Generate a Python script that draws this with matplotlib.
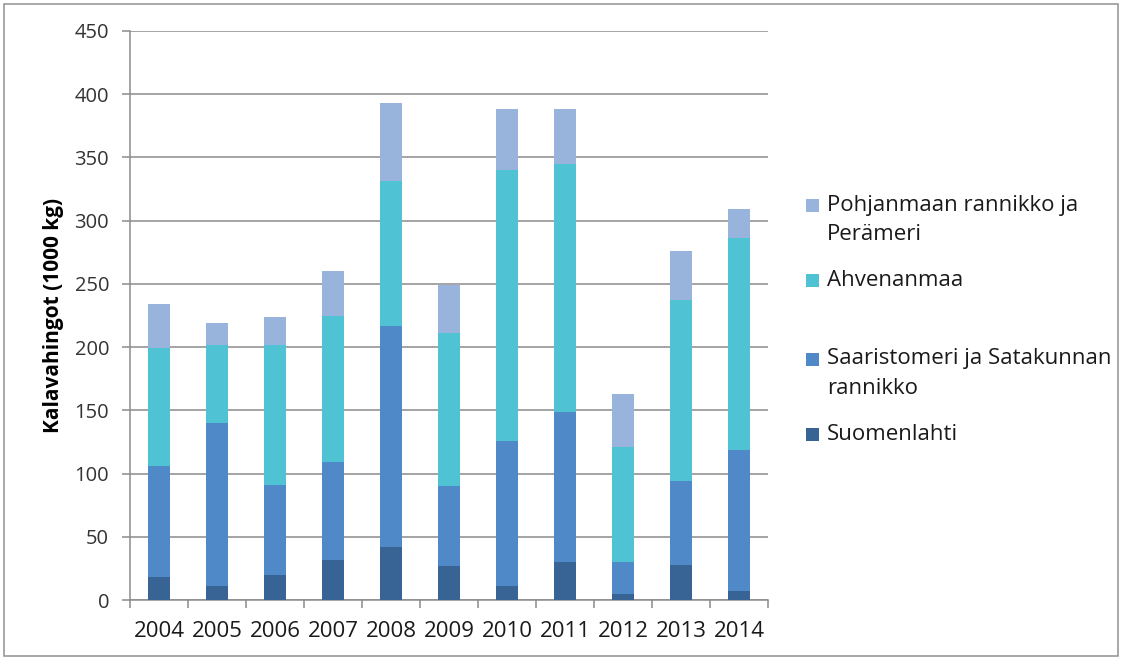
import matplotlib
matplotlib.use("Agg")
import matplotlib.pyplot as plt
from matplotlib.patches import Rectangle
import numpy as np

years = ["2004", "2005", "2006", "2007", "2008", "2009", "2010", "2011", "2012", "2013", "2014"]
suomenlahti = [18, 11, 20, 32, 42, 27, 11, 30, 5, 28, 7]
saaristomeri = [88, 129, 71, 77, 175, 63, 115, 119, 25, 66, 112]
ahvenanmaa = [93, 62, 111, 116, 114, 121, 214, 196, 91, 143, 167]
pohjanmaa = [35, 17, 22, 35, 62, 38, 48, 43, 42, 39, 23]

series_names = ["Suomenlahti", "Saaristomeri ja Satakunnan rannikko", "Ahvenanmaa",
                "Pohjanmaan rannikko ja Perämeri"]
colors = ["#376395", "#4f89c8", "#4fc3d3", "#98b4dd"]

plt.rcParams['font.family'] = ['Open Sans', 'DejaVu Sans']

W, H = 1123, 659
fig = plt.figure(figsize=(W/100, H/100), dpi=100)
ax = fig.add_axes([130/W, 1-600/H, (768-130)/W, (600-31)/H])

x = np.arange(len(years))
series = [suomenlahti, saaristomeri, ahvenanmaa, pohjanmaa]
bottom = np.zeros(len(years))
for vals, c, name in zip(series, colors, series_names):
    ax.bar(x, vals, width=0.37, bottom=bottom, color=c, edgecolor='none', zorder=3, label=name)
    bottom += np.array(vals)

ax.set_xlim(-0.5, len(years) - 0.5)
ax.set_ylim(0, 450)
ax.set_yticks(np.arange(0, 451, 50))
ax.grid(axis='y', color='#8c8c8c', linewidth=1.1, zorder=0)
ax.set_xticks(x)
ax.set_xticklabels(years)
ax.set_xticks(np.arange(-0.5, len(years), 1), minor=True)
ax.tick_params(axis='x', which='major', length=0, labelsize=16, pad=15, labelcolor='#1a1a1a')
ax.tick_params(axis='x', which='minor', length=6, color='#8c8c8c', width=1.1, direction='out')
ax.tick_params(axis='y', length=6, color='#8c8c8c', width=1.1, labelsize=14.5, pad=9,
               labelcolor='#333333')
for s in ['top', 'right']:
    ax.spines[s].set_visible(False)
for s in ['left', 'bottom']:
    ax.spines[s].set_color('#8c8c8c')
    ax.spines[s].set_linewidth(1.1)
ax.set_ylabel("Kalavahingot (1000 kg)", fontsize=15, fontweight='bold')
ax.yaxis.set_label_coords((64-130)/638, 0.5)

# legend drawn manually (square aligned with first text line, as in reference)
legend_entries = [
    (3, ["Pohjanmaan rannikko ja", "Perämeri"], 205),
    (2, ["Ahvenanmaa"], 280),
    (1, ["Saaristomeri ja Satakunnan", "rannikko"], 359),
    (0, ["Suomenlahti"], 434),
]
line_gap = 29
for idx, lines, y0 in legend_entries:
    fig.patches.append(Rectangle((806/W, 1-(y0+6.5)/H), 13/W, 13/H, transform=fig.transFigure,
                                 facecolor=colors[idx], edgecolor='none'))
    for k, ln in enumerate(lines):
        fig.text(827/W, 1-(y0 + k*line_gap)/H, ln, fontsize=16, color='#1a1a1a',
                 ha='left', va='center')

fig.patches.append(Rectangle((4/W, 3/H), 1114/W, 652/H, transform=fig.transFigure,
                             fill=False, edgecolor='#9a9a9a', linewidth=1.2))

fig.savefig("out.png", dpi=100)
